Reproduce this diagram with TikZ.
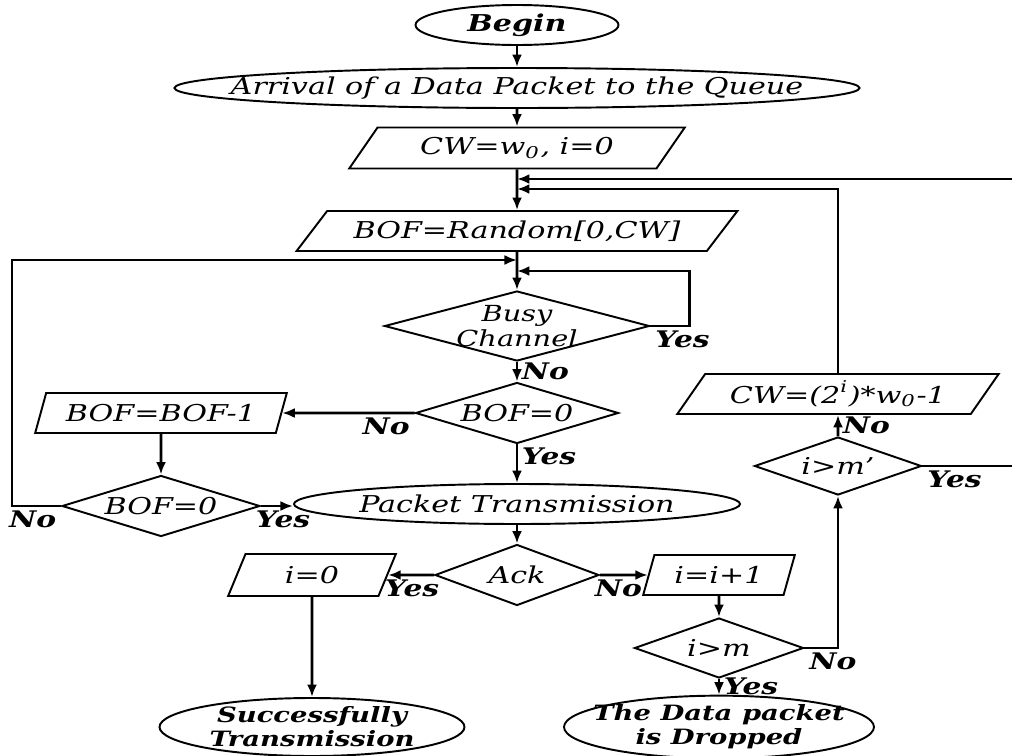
\documentclass[tikz,border=0pt]{standalone}
\usepackage{fontspec}
\setmainfont{DejaVu Serif}[FakeStretch=1.3]
\usepackage{tikz}
\usetikzlibrary{arrows.meta, positioning, shapes.geometric}

\begin{document}
\begin{tikzpicture}[
	on grid,
	every node/.style={font=\fontsize{6.6}{6}\selectfont\itshape},
	term/.style={draw, ellipse, line width=0.55pt, inner sep=0pt},
	endterm/.style={term, align=center, font=\fontsize{6}{5}\selectfont\itshape,
		minimum height=0.58cm},
	io/.style={draw, trapezium, trapezium left angle=#1, trapezium right angle=180-#1,
		trapezium stretches, line width=0.55pt, inner sep=1pt},
	dec/.style={draw, diamond, aspect=#1, line width=0.55pt, inner sep=0pt},
	arr/.style={-{Latex[length=1.25mm, width=1mm]}, line width=0.8pt},
	lbl/.style={font=\fontsize{6.5}{6}\selectfont\bfseries\itshape, inner sep=1pt},
	]
	\useasboundingbox (0,0) rectangle (10.12,-7.56);

	% Main column
	\node[term, minimum width=2.03cm, minimum height=0.4cm] (begin) at (5.17,-0.25) {\textbf{Begin}};
	\node[term, inner xsep=-0.44cm, minimum width=6.79cm, minimum height=0.4cm, below=0.63cm of begin] (arrival)
	{Arrival of a Data Packet to the Queue};
	\node[io=54, minimum width=3.37cm, minimum height=0.41cm, below=0.6cm of arrival] (cwinit) {CW=w\textsubscript{0}, i=0};
	\node[io=46, minimum width=4.41cm, minimum height=0.4cm, below=0.83cm of cwinit] (bofrand) {BOF=Random[0,CW]};
	\node[dec=3.8, align=center, font=\fontsize{6.3}{5.5}\selectfont\itshape, inner sep=-2pt,
	minimum width=2.65cm, minimum height=0.7cm, below=0.95cm of bofrand] (busy) {Busy\\Channel};
	\node[dec=3.3, minimum width=2.03cm, minimum height=0.61cm, below=0.87cm of busy] (bofz) {BOF=0};
	\node[term, minimum width=4.42cm, minimum height=0.4cm, below=0.91cm of bofz] (packet) {Packet Transmission};
	\node[dec=2.7, minimum width=1.64cm, minimum height=0.61cm, below=0.71cm of packet] (ack) {Ack};

	% Left branch
	\node[io=69, minimum width=2.53cm, minimum height=0.4cm, left=3.56cm of bofz] (bofdec) {BOF=BOF-1};
	\node[dec=3.2, minimum width=1.98cm, minimum height=0.61cm, below=0.93cm of bofdec] (bofzl) {BOF=0};
	\node[io=72, minimum width=1.68cm, minimum height=0.42cm, left=2.05cm of ack] (izero) {i=0};
	\node[endterm, minimum width=3.05cm, below=1.52cm of izero] (success)
	{\textbf{Successfully}\\\textbf{Transmission}};

	% Right branch
	\node[io=71, minimum width=1.52cm, minimum height=0.4cm, right=2.02cm of ack] (iinc) {i=i+1};
	\node[dec=2.8, minimum width=1.69cm, minimum height=0.6cm, below=0.73cm of iinc] (igtm) {i>m};
	\node[endterm, inner xsep=-0.21cm, minimum width=3.1cm, below=0.79cm of igtm] (dropped)
	{\textbf{The Data packet}\\\textbf{is Dropped}};
	\node[dec=2.9, minimum width=1.67cm, minimum height=0.58cm, above right=1.82cm and 1.19cm of igtm] (igtmp) {i>m'};
	\node[io=55, minimum width=3.22cm, minimum height=0.4cm, above=0.72cm of igtmp] (cwup) {CW=(2\textsuperscript{i})*w\textsubscript{0}-1};

	% Junctions on the main column
	\coordinate[below=0.31cm of cwinit] (j1);
	\coordinate[below=0.41cm of cwinit] (j2);
	\coordinate[below=0.29cm of bofrand] (j3);
	\coordinate[below=0.4cm of bofrand] (j4);

	% Arrows
	\draw[arr] (begin) -- (arrival);
	\draw[arr] (arrival) -- (cwinit);
	\draw[arr] (cwinit) -- (bofrand);
	\draw[arr] (bofrand) -- (busy);
	\draw[arr] (busy) -- node[lbl, right] {No} (bofz);
	\draw[arr] (busy.east) node[lbl, below right] {Yes} -- ++(0.39,0) |- (j4);
	\draw[arr] (bofz) -- node[lbl, right, pos=0.3] {Yes} (packet);
	\draw[arr] (bofz.west) node[lbl, below left] {No} -- (bofdec);
	\draw[arr] (bofdec) -- (bofzl);
	\draw[arr] (bofzl.west) node[lbl, below left] {No} -- ++(-0.49,0) |- (j3);
	\draw[arr] (bofzl.east) node[lbl, below right, xshift=-1mm] {Yes} -- (bofzl.east -| packet.west);
	\draw[arr] (packet) -- (ack);
	\draw[arr] (ack.west) node[lbl, below left, xshift=1mm] {Yes} -- (izero);
	\draw[arr] (ack.east) node[lbl, below right, xshift=-1mm] {No} -- (iinc);
	\draw[arr] (izero) -- (success);
	\draw[arr] (iinc) -- (igtm);
	\draw[arr] (igtm) -- node[lbl, right] {Yes} (dropped);
	\draw[arr] (igtm.east) node[lbl, below right] {No} -| (igtmp);
	\draw[arr] (igtmp) -- node[lbl, right] {No} (cwup);
	\draw[arr] (cwup) |- (j2);
	\draw[arr] (igtmp.east) node[lbl, below right] {Yes} -- ++(1.0,0) |- (j1);
\end{tikzpicture}
\end{document}
